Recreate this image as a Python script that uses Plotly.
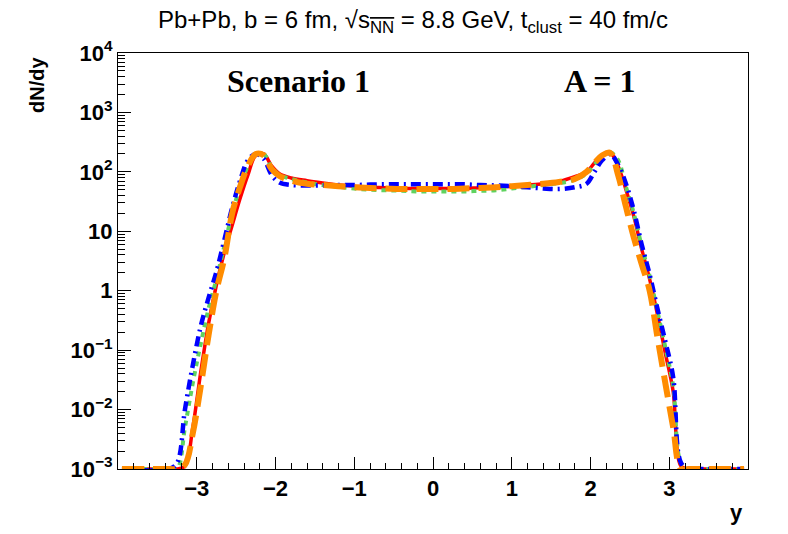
import plotly.graph_objects as go

# rapidity bin centres (shared by all four curves)
rapidity = [-3.95, -3.35, -3.25, -3.15, -3.05, -2.95, -2.85, -2.75, -2.65, -2.55, -2.45, -2.35, -2.25, -2.15, -2.05, -1.95,
            -1.8, -1.6, -1.4, -1.2, -1.0, -0.8, -0.6, -0.4, -0.2, 0.0, 0.2, 0.4, 0.6, 0.8, 1.0, 1.2, 1.4, 1.6, 1.8,
            1.95, 2.05, 2.15, 2.25, 2.35, 2.45, 2.55, 2.65, 2.75, 2.85, 2.95, 3.05, 3.15, 3.25, 3.35, 3.95]

dndy_red = [0.001, 0.001, 0.001, 0.00112, 0.005, 0.042, 0.28, 1.26, 4.4, 12.6, 35.5, 89, 190, 200, 126, 93,
            79, 71, 65, 60, 57.5, 55, 54, 52.5, 52.5, 52.5, 52.5, 52.5, 54, 55, 57.5, 60, 63, 69, 83,
            100, 141, 190, 209, 126, 50, 17.8, 5.0, 1.58, 0.4, 0.089, 0.02, 0.00112, 0.001, 0.001, 0.001]

dndy_green = [0.001, 0.001, 0.001, 0.005, 0.028, 0.126, 0.5, 1.58, 5.6, 20, 56, 126, 200, 200, 120, 89,
              76, 66, 60, 56, 52.5, 50, 49, 48, 46.8, 46.8, 46.8, 46.8, 48, 49, 52.5, 56, 60, 64.6, 74,
              93, 132, 190, 214, 158, 56, 20, 5.6, 1.78, 0.45, 0.112, 0.025, 0.00126, 0.001, 0.001, 0.001]

dndy_blue = [0.001, 0.001, 0.00126, 0.01, 0.056, 0.25, 0.76, 2.1, 7.1, 25, 71, 158, 200, 166, 89, 66,
             60, 59, 59, 60, 60, 61, 61.7, 61.7, 61.7, 61.7, 61.7, 61.7, 60, 59, 57.5, 55, 52.5, 51.3, 55,
             63, 100, 158, 200, 132, 63, 22.4, 6.0, 1.9, 0.5, 0.141, 0.035, 0.00126, 0.001, 0.001, 0.001]

dndy_orange = [0.001, 0.001, 0.001, 0.00118, 0.004, 0.0245, 0.178, 1.0, 3.5, 20, 56, 126, 200, 190, 112, 85,
               71, 63, 60, 57.5, 55, 53.7, 52.5, 51.3, 51.3, 51.3, 51.3, 52.5, 53.7, 55, 57.5, 60, 63, 67.6, 76,
               100, 141, 190, 209, 89, 26, 7.9, 2.8, 1.02, 0.166, 0.028, 0.005, 0.001, 0.001, 0.001, 0.001]

y_tickvals = [1e-3, 1e-2, 1e-1, 1, 10, 1e2, 1e3, 1e4]
y_ticktext = ["10<sup>\u22123</sup>", "10<sup>\u22122</sup>", "10<sup>\u22121</sup>", "1", "10",
              "10<sup>2</sup>", "10<sup>3</sup>", "10<sup>4</sup>"]
x_tickvals = [-3, -2, -1, 0, 1, 2, 3]
x_ticktext = ["\u22123", "\u22122", "\u22121", "0", "1", "2", "3"]

series = [
    (dndy_red, "#ff0000", 3.5, "solid"),
    (dndy_green, "#5fd35f", 4, "5px,5px"),
    (dndy_blue, "#0000ff", 4.5, "10px,5px,2px,5px"),
    (dndy_orange, "#ff8c00", 6, "22px,9px"),
]

fig = go.Figure()
for vals, color, width, dash in series:
    fig.add_trace(go.Scatter(
        x=rapidity, y=vals, mode="lines",
        line={"color": color, "width": width, "dash": dash, "shape": "spline", "smoothing": 1.0},
        showlegend=False,
    ))

minor_y = [m * 10 ** e for e in range(-3, 4) for m in range(2, 10)]

# page body adds an 8px margin, so the figure is sized 780x526 to sit inside the window
fig.update_layout(
    width=780, height=526,
    paper_bgcolor="white", plot_bgcolor="white",
    margin={"l": 110, "r": 40, "t": 45, "b": 65, "autoexpand": False},
    font={"family": "Liberation Sans, Arial, sans-serif", "color": "black"},
    xaxis={
        "range": [-4, 4], "showgrid": False, "zeroline": False,
        "showline": True, "linecolor": "black", "linewidth": 1, "mirror": True,
        "tickmode": "array", "tickvals": x_tickvals, "ticktext": x_ticktext,
        "ticks": "inside", "ticklen": 12, "tickcolor": "black",
        "tickfont": {"size": 22, "weight": "bold"},
        "minor": {"ticks": "inside", "ticklen": 6, "tickcolor": "black", "dtick": 0.2, "tick0": 0, "showgrid": False},
    },
    yaxis={
        "type": "log", "range": [-3, 4], "showgrid": False, "zeroline": False,
        "showline": True, "linecolor": "black", "linewidth": 1, "mirror": True,
        "tickmode": "array", "tickvals": y_tickvals, "ticktext": y_ticktext,
        "ticks": "inside", "ticklen": 13, "tickcolor": "black",
        "tickfont": {"size": 22, "weight": "bold"},
        "minor": {"ticks": "inside", "ticklen": 7, "tickcolor": "black", "tickmode": "array",
                  "tickvals": minor_y, "showgrid": False},
    },
    annotations=[
        {"text": "Pb+Pb, b = 6 fm, \u221a<span style='text-decoration:overline'>s<sub>NN</sub></span>"
                 " = 8.8 GeV, t<sub>clust</sub> = 40 fm/c",
         "xref": "paper", "yref": "paper", "x": 0.468, "y": 1.0, "yshift": 32,
         "xanchor": "center", "yanchor": "middle", "showarrow": False,
         "font": {"size": 24}},
        {"text": "Scenario 1", "xref": "paper", "yref": "paper", "x": 0.287, "y": 0.933,
         "xanchor": "center", "yanchor": "middle", "showarrow": False,
         "font": {"family": "Liberation Serif, Times New Roman, serif", "size": 32, "weight": "bold"}},
        {"text": "A = 1", "xref": "paper", "yref": "paper", "x": 0.765, "y": 0.933,
         "xanchor": "center", "yanchor": "middle", "showarrow": False,
         "font": {"family": "Liberation Serif, Times New Roman, serif", "size": 32, "weight": "bold"}},
        {"text": "dN/dy", "xref": "paper", "yref": "paper", "x": 0, "xshift": -81, "y": 1.0, "yshift": -2,
         "xanchor": "center", "yanchor": "top", "textangle": -90, "showarrow": False,
         "font": {"size": 20, "weight": "bold"}},
        {"text": "y", "xref": "paper", "yref": "paper", "x": 0.995, "y": 0, "yshift": -43,
         "xanchor": "right", "yanchor": "middle", "showarrow": False,
         "font": {"size": 22, "weight": "bold"}},
    ],
)

fig.write_html("out.html")
